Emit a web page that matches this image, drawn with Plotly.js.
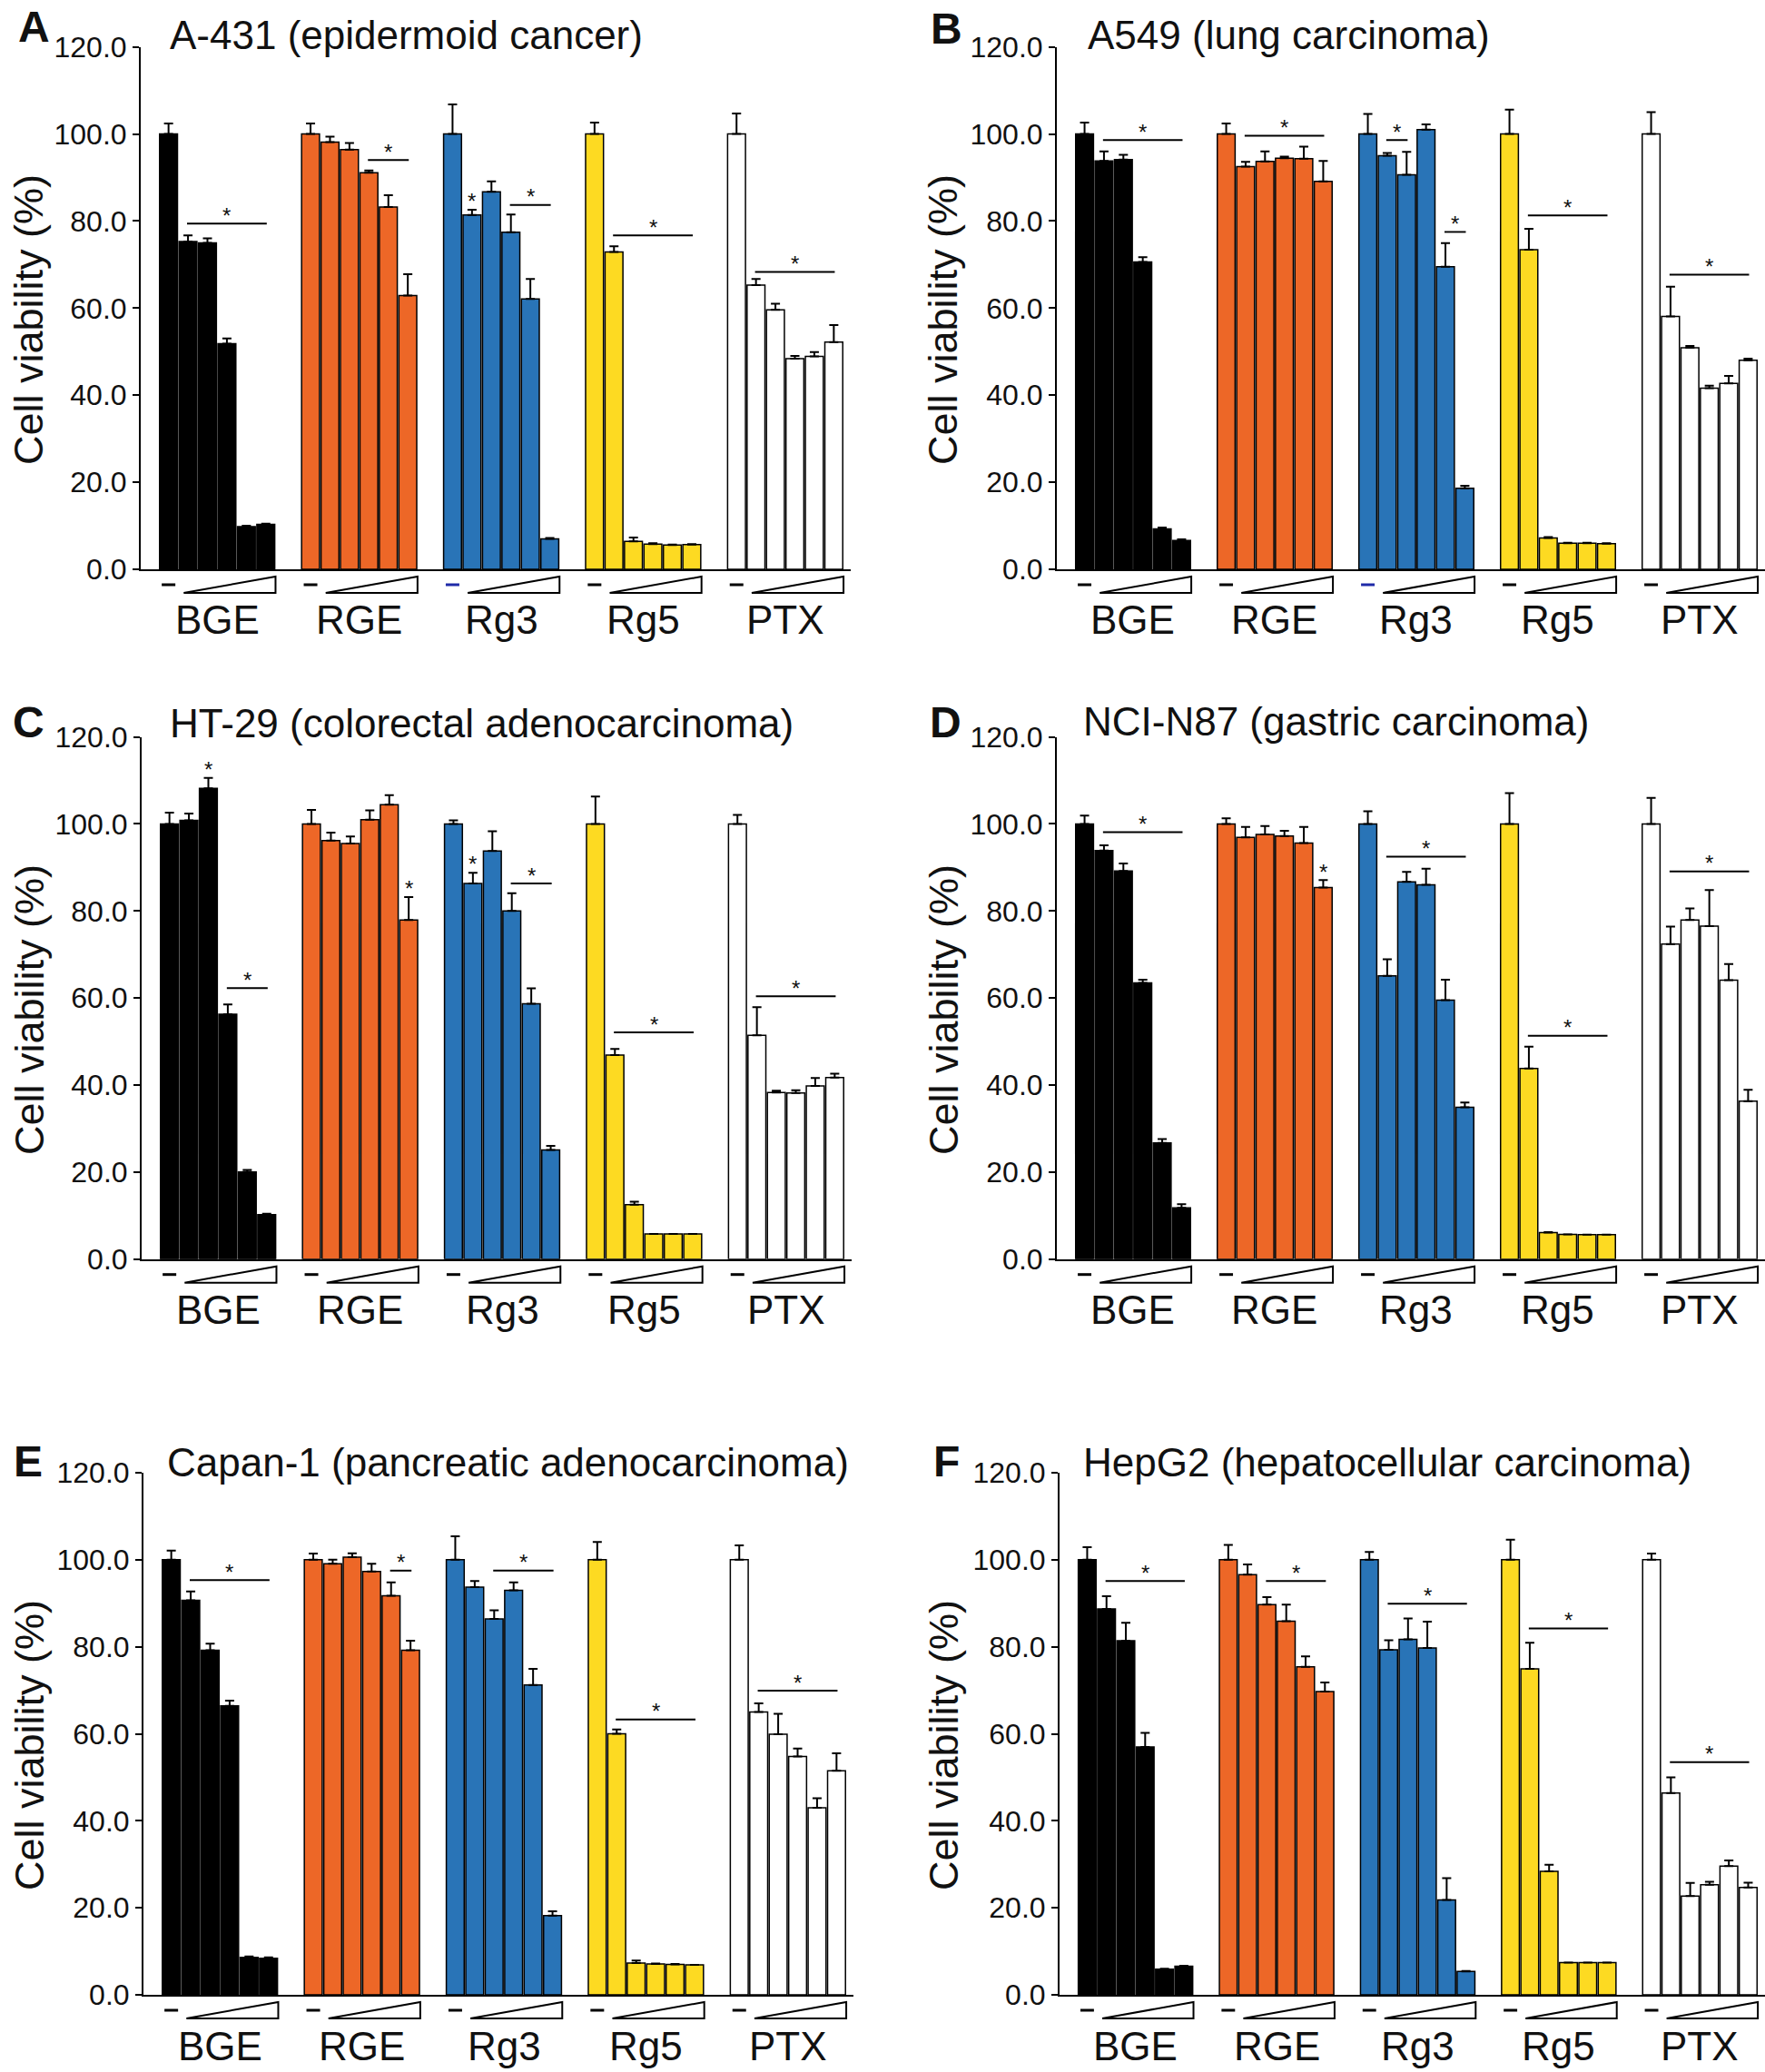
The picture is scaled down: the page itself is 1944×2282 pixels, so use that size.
<!DOCTYPE html>
<html>
<head>
<meta charset="utf-8">
<script src="https://cdn.plot.ly/plotly-3.0.1.min.js"></script>
<style>
  html, body { margin: 0; padding: 0; background: #fff; }
  #plot { width: 1944px; height: 2282px; }
</style>
</head>
<body>
<div id="plot"></div>
<script>
/*
    six panels of cell viability bars, one per cell line,
    five treatments with a control and five rising doses each
*/

// treatment groups and panel names
let groups = ["BGE", "RGE", "Rg3", "Rg5", "PTX"];
let panelLetters = ["A", "B", "C", "D", "E", "F"];
let cellLines = [
    "A-431 (epidermoid cancer)",
    "A549 (lung carcinoma)",
    "HT-29 (colorectal adenocarcinoma)",
    "NCI-N87 (gastric carcinoma)",
    "Capan-1 (pancreatic adenocarcinoma)",
    "HepG2 (hepatocellular carcinoma)"
];

// viability (%) per group: control then 5 doses, and the upper error
let viabilityA = [
    [100, 75.3, 75.0, 51.8, 9.8, 10.3],
    [100, 98.1, 96.4, 91.1, 83.2, 62.9],
    [100, 81.4, 86.7, 77.4, 62.1, 7.0],
    [100, 72.9, 6.4, 5.8, 5.6, 5.7],
    [100, 65.3, 59.6, 48.4, 48.9, 52.2]
];
let errorA = [
    [2.4, 1.4, 1.0, 1.2, 0.2, 0.2],
    [2.4, 1.3, 1.5, 0.5, 2.7, 4.9],
    [6.8, 1.2, 2.4, 4.1, 4.6, 0.2],
    [2.6, 1.3, 0.9, 0.2, 0.1, 0.1],
    [4.7, 1.4, 1.4, 0.6, 1.0, 3.9]
];

let viabilityB = [
    [100, 93.8, 94.1, 70.6, 9.3, 6.6],
    [100, 92.5, 93.7, 94.4, 94.3, 89.1],
    [100, 95.0, 90.6, 101.0, 69.5, 18.6],
    [100, 73.4, 7.2, 6.0, 6.0, 5.9],
    [100, 58.1, 50.9, 41.6, 42.7, 48.0]
];
let errorB = [
    [2.6, 2.2, 1.1, 1.1, 0.3, 0.3],
    [2.4, 1.1, 2.3, 0.4, 2.8, 4.7],
    [4.6, 0.6, 5.3, 1.2, 5.4, 0.6],
    [5.6, 4.8, 0.2, 0.1, 0.1, 0.1],
    [5.0, 6.8, 0.4, 0.6, 1.7, 0.4]
];

let viabilityC = [
    [100, 100.8, 108.2, 56.3, 20.0, 10.2],
    [100, 96.2, 95.5, 101.0, 104.4, 77.9],
    [100, 86.3, 93.8, 80.0, 58.7, 25.1],
    [100, 46.9, 12.5, 5.8, 5.8, 5.8],
    [100, 51.4, 38.3, 38.2, 39.8, 41.7]
];
let errorC = [
    [2.6, 1.6, 2.4, 2.2, 0.5, 0.2],
    [3.2, 1.8, 1.6, 2.1, 2.2, 5.3],
    [0.8, 2.5, 4.5, 4.1, 3.5, 0.9],
    [6.3, 1.4, 0.7, 0, 0, 0],
    [2.1, 6.5, 0.4, 0.6, 1.8, 0.9]
];

let viabilityD = [
    [100, 93.9, 89.2, 63.5, 26.7, 11.8],
    [100, 96.9, 97.6, 97.2, 95.6, 85.4],
    [100, 65.1, 86.7, 86.0, 59.5, 34.9],
    [100, 43.8, 6.1, 5.7, 5.6, 5.6],
    [100, 72.4, 77.9, 76.5, 64.1, 36.3]
];
let errorD = [
    [1.9, 1.2, 1.7, 0.7, 0.9, 0.8],
    [1.3, 2.4, 1.9, 1.2, 3.7, 1.7],
    [2.9, 3.8, 2.3, 3.7, 4.7, 1.1],
    [7.1, 5.0, 0.1, 0, 0, 0],
    [6.0, 4.0, 2.7, 8.3, 3.7, 2.6]
];

let viabilityE = [
    [100, 90.7, 79.2, 66.4, 8.6, 8.4],
    [100, 99.1, 100.6, 97.3, 91.7, 79.2],
    [100, 93.7, 86.4, 93.0, 71.2, 18.2],
    [100, 60.0, 7.3, 7.1, 7.0, 6.9],
    [100, 65.0, 59.9, 54.8, 43.0, 51.5]
];
let errorE = [
    [2.1, 2.0, 1.5, 1.2, 0.2, 0.2],
    [1.4, 0.9, 0.9, 1.8, 3.1, 2.2],
    [5.4, 1.4, 2.0, 1.8, 3.7, 1.0],
    [4.1, 1.0, 0.6, 0.1, 0.1, 0],
    [3.3, 2.0, 4.7, 1.8, 2.2, 4.0]
];

let viabilityF = [
    [100, 88.7, 81.4, 57.0, 5.9, 6.6],
    [100, 96.6, 89.7, 85.9, 75.4, 69.7],
    [100, 79.3, 81.7, 79.7, 21.8, 5.4],
    [100, 74.9, 28.4, 7.4, 7.4, 7.4],
    [100, 46.4, 22.7, 25.3, 29.6, 24.7]
];
let errorF = [
    [2.9, 2.9, 4.1, 3.2, 0.1, 0.1],
    [3.4, 2.3, 1.7, 3.8, 2.4, 2.1],
    [1.8, 2.2, 4.8, 6.1, 5.0, 0.1],
    [4.6, 6.0, 1.5, 0, 0, 0],
    [1.4, 3.6, 3.0, 0.7, 1.3, 1.1]
];

// significance marks: [group, first bar, last bar, height]; first == last is a lone star
let sigA = [[0, 1, 5, 79.4], [1, 3, 5, 94.0], [2, 1, 1, 82.7], [2, 3, 5, 83.7], [3, 1, 5, 76.7], [4, 1, 5, 68.3]];
let sigB = [[0, 1, 5, 98.6], [1, 1, 5, 99.6], [2, 1, 2, 98.6], [2, 4, 5, 77.5], [3, 1, 5, 81.3], [4, 1, 5, 67.7]];
let sigC = [[0, 2, 2, 110.6], [0, 3, 5, 62.3], [1, 5, 5, 83.2], [2, 1, 1, 88.9], [2, 3, 5, 86.3], [3, 1, 5, 52.1], [4, 1, 5, 60.4]];
let sigD = [[0, 1, 5, 98.1], [1, 5, 5, 87.0], [2, 1, 5, 92.5], [3, 1, 5, 51.3], [4, 1, 5, 89.1]];
let sigE = [[0, 1, 5, 95.3], [1, 4, 5, 97.5], [2, 2, 5, 97.5], [3, 1, 5, 63.3], [4, 1, 5, 69.9]];
let sigF = [[0, 1, 5, 95.1], [1, 2, 5, 95.1], [2, 1, 5, 89.9], [3, 1, 5, 84.2], [4, 1, 5, 53.5]];

let yTicks = [0, 20, 40, 60, 80, 100, 120];

let allValues = [viabilityA, viabilityB, viabilityC, viabilityD, viabilityE, viabilityF];
let allErrors = [errorA, errorB, errorC, errorD, errorE, errorF];
let allSig = [sigA, sigB, sigC, sigD, sigE, sigF];

// looks
let barColors = ["#000000", "#ED6727", "#2974B7", "#FDDA22", "#FFFFFF"];
let font = "Liberation Sans, Arial, Helvetica, sans-serif";
let W = 1944, H = 2282;
let pitch = 7.3; // group spacing in bar widths

// pixel box of each plot area: left, right, top (120), bottom (0)
let boxes = [
    [155, 937, 51.6, 627],
    [1164, 1944, 51.6, 627],
    [156, 938, 811.6, 1386.7],
    [1164, 1944, 811.6, 1386.7],
    [158, 940, 1622, 2197],
    [1167, 1944, 1622, 2197]
];
// letter centre, title left edge / cap centre, y title centre
let letterPos = [[37, 30], [1042, 31], [31, 795], [1041, 795], [31, 1609], [1042, 1609]];
let titlePos = [[185, 38], [1196, 39], [185, 796], [1191, 794], [182, 1610], [1191, 1610]];
let yTitlePos = [[32, 352], [1039, 352], [32, 1112], [1039, 1112], [32, 1922], [1039, 1922]];

let data = [];
let shapes = [];
let annotations = [];
let layout = {
    width: W,
    height: H,
    margin: {l: 0, r: 0, t: 0, b: 0},
    paper_bgcolor: "#fff",
    plot_bgcolor: "rgba(0,0,0,0)",
    showlegend: false,
    barmode: "overlay",
    font: {family: font, color: "#111"}
};

function py(px) { return 1 - px / H; }

for (var p = 0; p < 6; p++)
{
    let box = boxes[p];
    let n = p === 0 ? "" : String(p + 1);
    let xa = "x" + n, ya = "y" + n;

    layout["xaxis" + n] = {
        domain: [box[0] / W, box[1] / W],
        range: [-1.43, 4 * pitch + 5.87],
        anchor: ya,
        showline: true, linecolor: "#000", linewidth: 2,
        ticks: "", showticklabels: false,
        showgrid: false, zeroline: false, fixedrange: true
    };
    layout["yaxis" + n] = {
        domain: [py(box[3]), py(box[2])],
        range: [0, 120],
        anchor: xa,
        tickvals: yTicks, tickformat: ".1f",
        ticks: "outside", ticklen: 7, tickwidth: 2, tickcolor: "#000",
        tickfont: {family: font, size: 32, color: "#111"},
        showline: true, linecolor: "#000", linewidth: 2,
        showgrid: false, zeroline: false, fixedrange: true
    };

    // bars with upper error bars, one trace per treatment
    for (var g = 0; g < groups.length; g++)
    {
        let vals = allValues[p][g];
        data.push({
            type: "bar",
            x: vals.map((v, j) => g * pitch + j),
            y: vals,
            width: 0.92,
            marker: {color: barColors[g], line: {color: "#000", width: 1.5}},
            error_y: {
                type: "data", symmetric: false,
                array: allErrors[p][g], arrayminus: vals.map(() => 0),
                color: "#000", thickness: 2, width: 5
            },
            xaxis: xa, yaxis: ya,
            hoverinfo: "skip"
        });

        // group name under the axis
        annotations.push({
            xref: xa, yref: "paper",
            x: g * pitch + 2.5, y: py(box[3] + 56),
            text: groups[g], showarrow: false,
            xanchor: "center", yanchor: "middle",
            font: {family: font, size: 44, color: "#111"}
        });

        // control dash (blue for Rg3 in A and B)
        shapes.push({
            type: "line", xref: xa, yref: "paper",
            x0: g * pitch - 0.35, x1: g * pitch + 0.35,
            y0: py(box[3] + 17), y1: py(box[3] + 17),
            line: {color: (p < 2 && g === 2) ? "#1f2aa8" : "#000", width: 3}
        });

        // rising dose wedge
        let wx0 = g * pitch + 0.78, wx1 = g * pitch + 5.5;
        let yb = py(box[3] + 26), yt = py(box[3] + 8);
        shapes.push({
            type: "path", xref: xa, yref: "paper",
            path: "M " + wx0 + "," + yb + " L " + wx1 + "," + yb + " L " + wx1 + "," + yt + " Z",
            line: {color: "#000", width: 2},
            fillcolor: "rgba(0,0,0,0)"
        });
    }

    // significance lines and stars
    allSig[p].forEach(function(s) {
        let x0 = s[0] * pitch + s[1], x1 = s[0] * pitch + s[2];
        if (s[1] !== s[2]) {
            shapes.push({
                type: "line", xref: xa, yref: ya,
                x0: x0 - 0.05, x1: x1 + 0.05, y0: s[3], y1: s[3],
                line: {color: "#000", width: 2}
            });
        }
        annotations.push({
            xref: xa, yref: ya,
            x: (x0 + x1) / 2, y: s[3],
            text: "*", showarrow: false,
            xanchor: "center", yanchor: "middle", yshift: 9,
            font: {family: font, size: 24, color: "#111"}
        });
    });

    // panel letter, cell line title, y title
    annotations.push({
        xref: "paper", yref: "paper",
        x: letterPos[p][0] / W, y: py(letterPos[p][1]),
        text: "<b>" + panelLetters[p] + "</b>", showarrow: false,
        xanchor: "center", yanchor: "middle",
        font: {family: font, size: 48, color: "#111"}
    });
    annotations.push({
        xref: "paper", yref: "paper",
        x: titlePos[p][0] / W, y: py(titlePos[p][1]),
        text: cellLines[p], showarrow: false,
        xanchor: "left", yanchor: "middle",
        font: {family: font, size: 44, color: "#111"}
    });
    annotations.push({
        xref: "paper", yref: "paper",
        x: yTitlePos[p][0] / W, y: py(yTitlePos[p][1]),
        text: "Cell viability (%)", showarrow: false, textangle: -90,
        xanchor: "center", yanchor: "middle",
        font: {family: font, size: 45, color: "#111"}
    });
}

layout.shapes = shapes;
layout.annotations = annotations;

Plotly.newPlot("plot", data, layout, {staticPlot: true});
</script>
</body>
</html>
